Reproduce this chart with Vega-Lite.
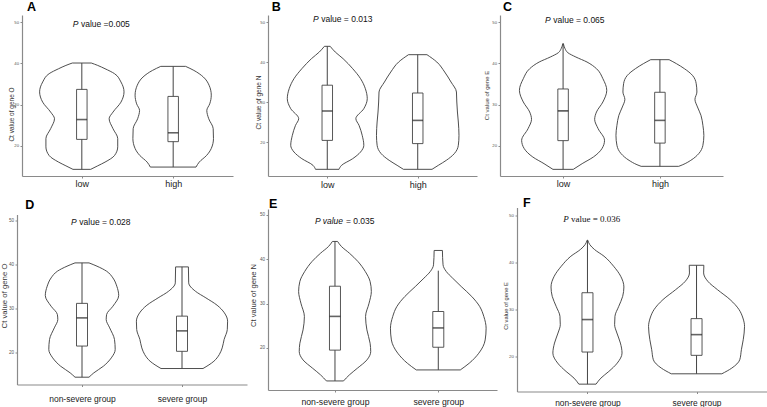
{
"$schema": "https://vega.github.io/schema/vega-lite/v6.json",
"autosize": {"type": "pad"},
"padding": {"left": 0, "top": 1, "right": 0, "bottom": 0},
"background": "white",
"bounds": "full",
"spacing": 6.5,
"datasets": {
"vA": [
{"g":1,"v":40.08,"lo":0.896,"hi":1.104},{"g":1,"v":39.5,"lo":0.826,"hi":1.174},{"g":1,"v":38.7,"lo":0.746,"hi":1.254},{"g":1,"v":37.5,"lo":0.642,"hi":1.358},{"g":1,"v":35.5,"lo":0.572,"hi":1.428},{"g":1,"v":33.1,"lo":0.538,"hi":1.462},{"g":1,"v":30.6,"lo":0.572,"hi":1.428},{"g":1,"v":28.2,"lo":0.659,"hi":1.341},{"g":1,"v":26.6,"lo":0.701,"hi":1.299},{"g":1,"v":24.2,"lo":0.659,"hi":1.341},{"g":1,"v":21.8,"lo":0.607,"hi":1.393},{"g":1,"v":19.8,"lo":0.607,"hi":1.393},{"g":1,"v":17.7,"lo":0.642,"hi":1.358},{"g":1,"v":16.1,"lo":0.746,"hi":1.254},{"g":1,"v":15.2,"lo":0.826,"hi":1.174},{"g":1,"v":14.35,"lo":0.903,"hi":1.097},
{"g":2,"v":39.27,"lo":1.864,"hi":2.136},{"g":2,"v":38.3,"lo":1.774,"hi":2.226},{"g":2,"v":36.7,"lo":1.67,"hi":2.33},{"g":2,"v":34.7,"lo":1.607,"hi":2.393},{"g":2,"v":32.3,"lo":1.583,"hi":2.417},{"g":2,"v":30.2,"lo":1.6,"hi":2.4},{"g":2,"v":28.6,"lo":1.632,"hi":2.368},{"g":2,"v":26.6,"lo":1.611,"hi":2.389},{"g":2,"v":24.2,"lo":1.562,"hi":2.438},{"g":2,"v":21.8,"lo":1.559,"hi":2.441},{"g":2,"v":19.4,"lo":1.583,"hi":2.417},{"g":2,"v":17.7,"lo":1.635,"hi":2.365},{"g":2,"v":16.1,"lo":1.715,"hi":2.285},{"g":2,"v":14.9,"lo":1.75,"hi":2.25}
],
"bA": [{"pos":1,"min":14.35,"q1":21.6,"med":26.4,"q3":33.7,"max":40.08},{"pos":2,"min":14.9,"q1":21.05,"med":23.2,"q3":32.0,"max":39.27}],
"vB": [
{"g":1,"v":43.92,"lo":0.968,"hi":1.032},{"g":1,"v":42.5,"lo":0.912,"hi":1.088},{"g":1,"v":40.83,"lo":0.825,"hi":1.175},{"g":1,"v":38.33,"lo":0.719,"hi":1.281},{"g":1,"v":35.83,"lo":0.632,"hi":1.368},{"g":1,"v":33.33,"lo":0.579,"hi":1.421},{"g":1,"v":30.83,"lo":0.558,"hi":1.442},{"g":1,"v":28.33,"lo":0.596,"hi":1.404},{"g":1,"v":25.83,"lo":0.684,"hi":1.316},{"g":1,"v":24.17,"lo":0.649,"hi":1.351},{"g":1,"v":21.67,"lo":0.614,"hi":1.386},{"g":1,"v":19.17,"lo":0.596,"hi":1.404},{"g":1,"v":17.5,"lo":0.632,"hi":1.368},{"g":1,"v":15.83,"lo":0.719,"hi":1.281},{"g":1,"v":14.17,"lo":0.842,"hi":1.158},{"g":1,"v":13.17,"lo":0.87,"hi":1.13},
{"g":2,"v":41.83,"lo":1.898,"hi":2.102},{"g":2,"v":40.0,"lo":1.789,"hi":2.211},{"g":2,"v":37.5,"lo":1.702,"hi":2.298},{"g":2,"v":35.0,"lo":1.632,"hi":2.368},{"g":2,"v":32.5,"lo":1.572,"hi":2.428},{"g":2,"v":30.0,"lo":1.568,"hi":2.432},{"g":2,"v":27.5,"lo":1.561,"hi":2.439},{"g":2,"v":25.0,"lo":1.551,"hi":2.449},{"g":2,"v":21.67,"lo":1.544,"hi":2.456},{"g":2,"v":19.17,"lo":1.551,"hi":2.449},{"g":2,"v":17.08,"lo":1.596,"hi":2.404},{"g":2,"v":15.42,"lo":1.684,"hi":2.316},{"g":2,"v":14.17,"lo":1.772,"hi":2.228},{"g":2,"v":13.17,"lo":1.842,"hi":2.158}
],
"bB": [{"pos":1,"min":13.17,"q1":20.4,"med":27.75,"q3":34.2,"max":43.92},{"pos":2,"min":13.17,"q1":19.6,"med":25.4,"q3":32.25,"max":41.83}],
"vC": [
{"g":1,"v":44.76,"lo":0.997,"hi":1.003},{"g":1,"v":43.55,"lo":0.98,"hi":1.02},{"g":1,"v":42.58,"lo":0.951,"hi":1.049},{"g":1,"v":41.53,"lo":0.868,"hi":1.132},{"g":1,"v":40.32,"lo":0.753,"hi":1.247},{"g":1,"v":38.71,"lo":0.655,"hi":1.345},{"g":1,"v":36.29,"lo":0.589,"hi":1.411},{"g":1,"v":33.47,"lo":0.549,"hi":1.451},{"g":1,"v":30.65,"lo":0.589,"hi":1.411},{"g":1,"v":28.23,"lo":0.655,"hi":1.345},{"g":1,"v":26.45,"lo":0.674,"hi":1.326},{"g":1,"v":24.19,"lo":0.638,"hi":1.362},{"g":1,"v":21.37,"lo":0.572,"hi":1.428},{"g":1,"v":19.35,"lo":0.599,"hi":1.401},{"g":1,"v":17.34,"lo":0.687,"hi":1.313},{"g":1,"v":15.73,"lo":0.803,"hi":1.197},{"g":1,"v":14.35,"lo":0.895,"hi":1.105},
{"g":2,"v":40.89,"lo":1.905,"hi":2.095},{"g":2,"v":39.92,"lo":1.829,"hi":2.171},{"g":2,"v":38.71,"lo":1.747,"hi":2.253},{"g":2,"v":37.1,"lo":1.664,"hi":2.336},{"g":2,"v":35.08,"lo":1.625,"hi":2.375},{"g":2,"v":33.06,"lo":1.618,"hi":2.382},{"g":2,"v":31.29,"lo":1.638,"hi":2.362},{"g":2,"v":29.44,"lo":1.612,"hi":2.388},{"g":2,"v":27.42,"lo":1.576,"hi":2.424},{"g":2,"v":25.0,"lo":1.556,"hi":2.444},{"g":2,"v":22.58,"lo":1.546,"hi":2.454},{"g":2,"v":20.16,"lo":1.556,"hi":2.444},{"g":2,"v":18.15,"lo":1.599,"hi":2.401},{"g":2,"v":16.53,"lo":1.681,"hi":2.319},{"g":2,"v":15.48,"lo":1.763,"hi":2.237},{"g":2,"v":15.08,"lo":1.806,"hi":2.194}
],
"bC": [{"pos":1,"min":14.35,"q1":21.3,"med":28.5,"q3":33.8,"max":44.76},{"pos":2,"min":15.08,"q1":20.7,"med":26.2,"q3":33.0,"max":40.89}],
"vD": [
{"g":1,"v":40.3,"lo":0.93,"hi":1.07},{"g":1,"v":39.55,"lo":0.85,"hi":1.15},{"g":1,"v":38.41,"lo":0.754,"hi":1.246},{"g":1,"v":36.89,"lo":0.691,"hi":1.309},{"g":1,"v":35.0,"lo":0.652,"hi":1.348},{"g":1,"v":32.88,"lo":0.633,"hi":1.367},{"g":1,"v":30.45,"lo":0.691,"hi":1.309},{"g":1,"v":28.56,"lo":0.754,"hi":1.246},{"g":1,"v":27.42,"lo":0.758,"hi":1.242},{"g":1,"v":25.53,"lo":0.723,"hi":1.277},{"g":1,"v":22.88,"lo":0.675,"hi":1.325},{"g":1,"v":20.61,"lo":0.668,"hi":1.332},{"g":1,"v":18.71,"lo":0.707,"hi":1.293},{"g":1,"v":16.82,"lo":0.786,"hi":1.214},{"g":1,"v":15.3,"lo":0.882,"hi":1.118},{"g":1,"v":14.32,"lo":0.93,"hi":1.07},
{"g":2,"v":39.39,"lo":1.936,"hi":2.064},{"g":2,"v":35.76,"lo":1.933,"hi":2.067},{"g":2,"v":33.86,"lo":1.866,"hi":2.134},{"g":2,"v":32.35,"lo":1.761,"hi":2.239},{"g":2,"v":30.68,"lo":1.649,"hi":2.351},{"g":2,"v":28.94,"lo":1.576,"hi":2.424},{"g":2,"v":27.05,"lo":1.544,"hi":2.456},{"g":2,"v":25.15,"lo":1.547,"hi":2.453},{"g":2,"v":22.88,"lo":1.579,"hi":2.421},{"g":2,"v":20.98,"lo":1.598,"hi":2.402},{"g":2,"v":19.47,"lo":1.627,"hi":2.373},{"g":2,"v":17.95,"lo":1.681,"hi":2.319},{"g":2,"v":16.29,"lo":1.79,"hi":2.21}
],
"bD": [{"pos":1,"min":14.32,"q1":21.4,"med":27.8,"q3":31.1,"max":40.3},{"pos":2,"min":16.29,"q1":20.2,"med":24.85,"q3":28.2,"max":39.39}],
"vE": [
{"g":1,"v":43.98,"lo":0.975,"hi":1.025},{"g":1,"v":42.86,"lo":0.938,"hi":1.062},{"g":1,"v":41.35,"lo":0.861,"hi":1.139},{"g":1,"v":39.47,"lo":0.778,"hi":1.222},{"g":1,"v":37.22,"lo":0.707,"hi":1.293},{"g":1,"v":34.96,"lo":0.66,"hi":1.34},{"g":1,"v":32.71,"lo":0.648,"hi":1.352},{"g":1,"v":30.08,"lo":0.67,"hi":1.33},{"g":1,"v":27.07,"lo":0.704,"hi":1.296},{"g":1,"v":24.06,"lo":0.691,"hi":1.309},{"g":1,"v":21.05,"lo":0.66,"hi":1.34},{"g":1,"v":19.17,"lo":0.654,"hi":1.346},{"g":1,"v":17.29,"lo":0.691,"hi":1.309},{"g":1,"v":15.41,"lo":0.784,"hi":1.216},{"g":1,"v":13.91,"lo":0.861,"hi":1.139},{"g":1,"v":12.56,"lo":0.917,"hi":1.083},
{"g":2,"v":41.95,"lo":1.96,"hi":2.04},{"g":2,"v":38.72,"lo":1.954,"hi":2.046},{"g":2,"v":37.22,"lo":1.923,"hi":2.077},{"g":2,"v":35.71,"lo":1.861,"hi":2.139},{"g":2,"v":33.83,"lo":1.778,"hi":2.222},{"g":2,"v":31.58,"lo":1.676,"hi":2.324},{"g":2,"v":29.32,"lo":1.599,"hi":2.401},{"g":2,"v":27.07,"lo":1.559,"hi":2.441},{"g":2,"v":24.44,"lo":1.537,"hi":2.463},{"g":2,"v":21.8,"lo":1.546,"hi":2.454},{"g":2,"v":18.8,"lo":1.608,"hi":2.392},{"g":2,"v":16.54,"lo":1.701,"hi":2.299},{"g":2,"v":15.04,"lo":1.787,"hi":2.213}
],
"bE": [{"pos":1,"min":12.56,"q1":19.5,"med":27.1,"q3":33.9,"max":43.98},{"pos":2,"min":15.04,"q1":20.15,"med":24.5,"q3":28.2,"max":37.4}],
"vF": [
{"g":1,"v":44.75,"lo":0.997,"hi":1.003},{"g":1,"v":43.83,"lo":0.979,"hi":1.021},{"g":1,"v":42.77,"lo":0.935,"hi":1.065},{"g":1,"v":41.35,"lo":0.848,"hi":1.152},{"g":1,"v":39.22,"lo":0.76,"hi":1.24},{"g":1,"v":37.09,"lo":0.695,"hi":1.305},{"g":1,"v":34.82,"lo":0.666,"hi":1.334},{"g":1,"v":32.84,"lo":0.677,"hi":1.323},{"g":1,"v":30.71,"lo":0.713,"hi":1.287},{"g":1,"v":28.58,"lo":0.748,"hi":1.252},{"g":1,"v":26.81,"lo":0.751,"hi":1.249},{"g":1,"v":25.04,"lo":0.73,"hi":1.27},{"g":1,"v":22.91,"lo":0.698,"hi":1.302},{"g":1,"v":20.78,"lo":0.683,"hi":1.317},{"g":1,"v":18.65,"lo":0.727,"hi":1.273},{"g":1,"v":16.88,"lo":0.804,"hi":1.196},{"g":1,"v":15.46,"lo":0.877,"hi":1.123},{"g":1,"v":14.18,"lo":0.921,"hi":1.079},
{"g":2,"v":39.43,"lo":1.933,"hi":2.067},{"g":2,"v":37.8,"lo":1.935,"hi":2.065},{"g":2,"v":36.03,"lo":1.897,"hi":2.103},{"g":2,"v":34.26,"lo":1.809,"hi":2.191},{"g":2,"v":32.13,"lo":1.692,"hi":2.308},{"g":2,"v":30.0,"lo":1.61,"hi":2.39},{"g":2,"v":28.23,"lo":1.575,"hi":2.425},{"g":2,"v":26.45,"lo":1.56,"hi":2.44},{"g":2,"v":23.62,"lo":1.572,"hi":2.428},{"g":2,"v":21.49,"lo":1.589,"hi":2.411},{"g":2,"v":19.36,"lo":1.604,"hi":2.396},{"g":2,"v":17.59,"lo":1.677,"hi":2.323},{"g":2,"v":16.38,"lo":1.768,"hi":2.232}
],
"bF": [{"pos":1,"min":14.18,"q1":21.0,"med":27.9,"q3":33.6,"max":44.75},{"pos":2,"min":16.38,"q1":20.3,"med":24.7,"q3":28.1,"max":39.43}],
"empty": [{}]
},
"vconcat": [
{"hconcat": [
  {"width": 22, "height": 1, "view": {"fill": "white", "stroke": null}, "data": {"name": "empty"}, "mark": {"type": "point", "opacity": 0}, "encoding": {}},
  {"width": 211, "height": 161, "title": {"text": "A", "dx": 5, "offset": 1.5},
   "layer": [
    {"data": {"name": "vA"}, "mark": {"type": "area", "orient": "horizontal", "interpolate": "monotone", "fill": "white", "stroke": "#3a3a3a", "strokeWidth": 0.9},
     "encoding": {"y": {"field": "v", "type": "quantitative", "scale": {"domain": [12.74, 51.7], "nice": false, "zero": false}, "axis": {"values": [20,30,40,50], "title": "Ct value of gene O", "titleFontSize": 6.5, "titleX": -10.3, "titleY": 99}},
      "x": {"field": "lo", "type": "quantitative", "scale": {"domain": [0.4, 2.6], "nice": false, "zero": false}, "axis": {"values": [1,2], "labelExpr": "datum.value == 1 ? 'low' : 'high'", "title": null, "labelPadding": 5.2, "labelFontSize": 9}},
      "x2": {"field": "hi"}, "detail": {"field": "g"}}},
    {"data": {"name": "bA"}, "mark": {"type": "rule", "color": "#444", "strokeWidth": 1},
     "encoding": {"x": {"field": "pos", "type": "quantitative", "scale": {"domain": [0.4, 2.6], "nice": false, "zero": false}}, "y": {"field": "min", "type": "quantitative", "scale": {"domain": [12.74, 51.7], "nice": false, "zero": false}}, "y2": {"field": "max"}}},
    {"data": {"name": "bA"}, "mark": {"type": "bar", "size": 10.5, "fill": "white", "stroke": "#444", "strokeWidth": 0.9},
     "encoding": {"x": {"field": "pos", "type": "quantitative", "scale": {"domain": [0.4, 2.6], "nice": false, "zero": false}}, "y": {"field": "q1", "type": "quantitative", "scale": {"domain": [12.74, 51.7], "nice": false, "zero": false}}, "y2": {"field": "q3"}}},
    {"data": {"name": "bA"}, "mark": {"type": "tick", "orient": "horizontal", "size": 10.5, "thickness": 1.6, "color": "#222"},
     "encoding": {"x": {"field": "pos", "type": "quantitative", "scale": {"domain": [0.4, 2.6], "nice": false, "zero": false}}, "y": {"field": "med", "type": "quantitative", "scale": {"domain": [12.74, 51.7], "nice": false, "zero": false}}}},
    {"data": {"name": "empty"}, "mark": {"type": "text", "fontStyle": "italic", "align": "left", "baseline": "middle", "fontSize": 8.5, "color": "#111"},
     "encoding": {"x": {"datum": 0.9005, "type": "quantitative", "scale": {"domain": [0.4, 2.6], "nice": false, "zero": false}}, "y": {"datum": 49.44, "type": "quantitative", "scale": {"domain": [12.74, 51.7], "nice": false, "zero": false}}, "text": {"value": "P"}}},
    {"data": {"name": "empty"}, "mark": {"type": "text", "align": "left", "baseline": "middle", "fontSize": 8.5, "color": "#111", "dx": 8.2},
     "encoding": {"x": {"datum": 0.9005, "type": "quantitative", "scale": {"domain": [0.4, 2.6], "nice": false, "zero": false}}, "y": {"datum": 49.44, "type": "quantitative", "scale": {"domain": [12.74, 51.7], "nice": false, "zero": false}}, "text": {"value": "value =0.005"}}}
   ]},
  {"width": 35, "height": 1, "view": {"fill": "white", "stroke": null}, "data": {"name": "empty"}, "mark": {"type": "point", "opacity": 0}, "encoding": {}},
  {"width": 209, "height": 161, "title": {"text": "B", "dx": 3.7, "offset": 1.5},
   "layer": [
    {"data": {"name": "vB"}, "mark": {"type": "area", "orient": "horizontal", "interpolate": "monotone", "fill": "white", "stroke": "#3a3a3a", "strokeWidth": 0.9},
     "encoding": {"y": {"field": "v", "type": "quantitative", "scale": {"domain": [11.5, 51.75], "nice": false, "zero": false}, "axis": {"values": [20,30,40,50], "title": "Ct value of gene N", "titleFontSize": 6.5, "titleX": -9.5, "titleY": 87}},
      "x": {"field": "lo", "type": "quantitative", "scale": {"domain": [0.4, 2.6], "nice": false, "zero": false}, "axis": {"values": [1,2], "labelExpr": "datum.value == 1 ? 'low' : 'high'", "title": null, "labelPadding": 6.8, "labelFontSize": 9}},
      "x2": {"field": "hi"}, "detail": {"field": "g"}}},
    {"data": {"name": "bB"}, "mark": {"type": "rule", "color": "#444", "strokeWidth": 1},
     "encoding": {"x": {"field": "pos", "type": "quantitative", "scale": {"domain": [0.4, 2.6], "nice": false, "zero": false}}, "y": {"field": "min", "type": "quantitative", "scale": {"domain": [11.5, 51.75], "nice": false, "zero": false}}, "y2": {"field": "max"}}},
    {"data": {"name": "bB"}, "mark": {"type": "bar", "size": 10.5, "fill": "white", "stroke": "#444", "strokeWidth": 0.9},
     "encoding": {"x": {"field": "pos", "type": "quantitative", "scale": {"domain": [0.4, 2.6], "nice": false, "zero": false}}, "y": {"field": "q1", "type": "quantitative", "scale": {"domain": [11.5, 51.75], "nice": false, "zero": false}}, "y2": {"field": "q3"}}},
    {"data": {"name": "bB"}, "mark": {"type": "tick", "orient": "horizontal", "size": 10.5, "thickness": 1.6, "color": "#222"},
     "encoding": {"x": {"field": "pos", "type": "quantitative", "scale": {"domain": [0.4, 2.6], "nice": false, "zero": false}}, "y": {"field": "med", "type": "quantitative", "scale": {"domain": [11.5, 51.75], "nice": false, "zero": false}}}},
    {"data": {"name": "empty"}, "mark": {"type": "text", "fontStyle": "italic", "align": "left", "baseline": "middle", "fontSize": 8.5, "color": "#111"},
     "encoding": {"x": {"datum": 0.842, "type": "quantitative", "scale": {"domain": [0.4, 2.6], "nice": false, "zero": false}}, "y": {"datum": 50.68, "type": "quantitative", "scale": {"domain": [11.5, 51.75], "nice": false, "zero": false}}, "text": {"value": "P"}}},
    {"data": {"name": "empty"}, "mark": {"type": "text", "align": "left", "baseline": "middle", "fontSize": 8.5, "color": "#111", "dx": 8.2},
     "encoding": {"x": {"datum": 0.842, "type": "quantitative", "scale": {"domain": [0.4, 2.6], "nice": false, "zero": false}}, "y": {"datum": 50.68, "type": "quantitative", "scale": {"domain": [11.5, 51.75], "nice": false, "zero": false}}, "text": {"value": "value = 0.013"}}}
   ]},
  {"width": 23, "height": 1, "view": {"fill": "white", "stroke": null}, "data": {"name": "empty"}, "mark": {"type": "point", "opacity": 0}, "encoding": {}},
  {"width": 223, "height": 161, "title": {"text": "C", "dx": 3, "offset": 1.5},
   "layer": [
    {"data": {"name": "vC"}, "mark": {"type": "area", "orient": "horizontal", "interpolate": "monotone", "fill": "white", "stroke": "#3a3a3a", "strokeWidth": 0.9},
     "encoding": {"y": {"field": "v", "type": "quantitative", "scale": {"domain": [12.74, 51.7], "nice": false, "zero": false}, "axis": {"values": [20,30,40,50], "title": "Ct value of gene E", "titleFontSize": 6, "titleX": -13.5, "titleY": 80}},
      "x": {"field": "lo", "type": "quantitative", "scale": {"domain": [0.4, 2.6], "nice": false, "zero": false}, "axis": {"values": [1,2], "labelExpr": "datum.value == 1 ? 'low' : 'high'", "title": null, "labelPadding": 5.2, "labelFontSize": 9}},
      "x2": {"field": "hi"}, "detail": {"field": "g"}}},
    {"data": {"name": "bC"}, "mark": {"type": "rule", "color": "#444", "strokeWidth": 1},
     "encoding": {"x": {"field": "pos", "type": "quantitative", "scale": {"domain": [0.4, 2.6], "nice": false, "zero": false}}, "y": {"field": "min", "type": "quantitative", "scale": {"domain": [12.74, 51.7], "nice": false, "zero": false}}, "y2": {"field": "max"}}},
    {"data": {"name": "bC"}, "mark": {"type": "bar", "size": 10.5, "fill": "white", "stroke": "#444", "strokeWidth": 0.9},
     "encoding": {"x": {"field": "pos", "type": "quantitative", "scale": {"domain": [0.4, 2.6], "nice": false, "zero": false}}, "y": {"field": "q1", "type": "quantitative", "scale": {"domain": [12.74, 51.7], "nice": false, "zero": false}}, "y2": {"field": "q3"}}},
    {"data": {"name": "bC"}, "mark": {"type": "tick", "orient": "horizontal", "size": 10.5, "thickness": 1.6, "color": "#222"},
     "encoding": {"x": {"field": "pos", "type": "quantitative", "scale": {"domain": [0.4, 2.6], "nice": false, "zero": false}}, "y": {"field": "med", "type": "quantitative", "scale": {"domain": [12.74, 51.7], "nice": false, "zero": false}}}},
    {"data": {"name": "empty"}, "mark": {"type": "text", "fontStyle": "italic", "align": "left", "baseline": "middle", "fontSize": 8.5, "color": "#111"},
     "encoding": {"x": {"datum": 0.814, "type": "quantitative", "scale": {"domain": [0.4, 2.6], "nice": false, "zero": false}}, "y": {"datum": 50.41, "type": "quantitative", "scale": {"domain": [12.74, 51.7], "nice": false, "zero": false}}, "text": {"value": "P"}}},
    {"data": {"name": "empty"}, "mark": {"type": "text", "align": "left", "baseline": "middle", "fontSize": 8.5, "color": "#111", "dx": 8.2},
     "encoding": {"x": {"datum": 0.814, "type": "quantitative", "scale": {"domain": [0.4, 2.6], "nice": false, "zero": false}}, "y": {"datum": 50.41, "type": "quantitative", "scale": {"domain": [12.74, 51.7], "nice": false, "zero": false}}, "text": {"value": "value = 0.065"}}}
   ]}
], "spacing": 0, "bounds": "flush"},
{"hconcat": [
  {"width": 16.7, "height": 1, "view": {"fill": "white", "stroke": null}, "data": {"name": "empty"}, "mark": {"type": "point", "opacity": 0}, "encoding": {}},
  {"width": 230, "height": 170, "title": {"text": "D", "dx": 8.3, "offset": 3},
   "layer": [
    {"data": {"name": "vD"}, "mark": {"type": "area", "orient": "horizontal", "interpolate": "monotone", "fill": "white", "stroke": "#3a3a3a", "strokeWidth": 0.9},
     "encoding": {"y": {"field": "v", "type": "quantitative", "scale": {"domain": [12.66, 51.3], "nice": false, "zero": false}, "axis": {"values": [20,30,40,50], "title": "Ct value of gene O", "titleFontSize": 7.8, "titleX": -12.7, "titleY": 81, "labelFontSize": 4.6}},
      "x": {"field": "lo", "type": "quantitative", "scale": {"domain": [0.4, 2.6], "nice": false, "zero": false}, "axis": {"values": [1,2], "labelExpr": "datum.value == 1 ? 'non-severe group' : 'severe group'", "title": null, "labelPadding": 12, "labelFontSize": 8.5}},
      "x2": {"field": "hi"}, "detail": {"field": "g"}}},
    {"data": {"name": "bD"}, "mark": {"type": "rule", "color": "#444", "strokeWidth": 1},
     "encoding": {"x": {"field": "pos", "type": "quantitative", "scale": {"domain": [0.4, 2.6], "nice": false, "zero": false}}, "y": {"field": "min", "type": "quantitative", "scale": {"domain": [12.66, 51.3], "nice": false, "zero": false}}, "y2": {"field": "max"}}},
    {"data": {"name": "bD"}, "mark": {"type": "bar", "size": 11, "fill": "white", "stroke": "#444", "strokeWidth": 0.9},
     "encoding": {"x": {"field": "pos", "type": "quantitative", "scale": {"domain": [0.4, 2.6], "nice": false, "zero": false}}, "y": {"field": "q1", "type": "quantitative", "scale": {"domain": [12.66, 51.3], "nice": false, "zero": false}}, "y2": {"field": "q3"}}},
    {"data": {"name": "bD"}, "mark": {"type": "tick", "orient": "horizontal", "size": 11, "thickness": 1.6, "color": "#222"},
     "encoding": {"x": {"field": "pos", "type": "quantitative", "scale": {"domain": [0.4, 2.6], "nice": false, "zero": false}}, "y": {"field": "med", "type": "quantitative", "scale": {"domain": [12.66, 51.3], "nice": false, "zero": false}}}},
    {"data": {"name": "empty"}, "mark": {"type": "text", "fontStyle": "italic", "align": "left", "baseline": "middle", "fontSize": 8.5, "color": "#111"},
     "encoding": {"x": {"datum": 0.891, "type": "quantitative", "scale": {"domain": [0.4, 2.6], "nice": false, "zero": false}}, "y": {"datum": 49.55, "type": "quantitative", "scale": {"domain": [12.66, 51.3], "nice": false, "zero": false}}, "text": {"value": "P"}}},
    {"data": {"name": "empty"}, "mark": {"type": "text", "align": "left", "baseline": "middle", "fontSize": 8.5, "color": "#111", "dx": 8.2},
     "encoding": {"x": {"datum": 0.891, "type": "quantitative", "scale": {"domain": [0.4, 2.6], "nice": false, "zero": false}}, "y": {"datum": 49.55, "type": "quantitative", "scale": {"domain": [12.66, 51.3], "nice": false, "zero": false}}, "text": {"value": "value = 0.028"}}}
   ]},
  {"width": 21, "height": 1, "view": {"fill": "white", "stroke": null}, "data": {"name": "empty"}, "mark": {"type": "point", "opacity": 0}, "encoding": {}},
  {"width": 229, "height": 181, "title": {"text": "E", "dx": 1, "offset": -1.8},
   "layer": [
    {"data": {"name": "vE"}, "mark": {"type": "area", "orient": "horizontal", "interpolate": "monotone", "fill": "white", "stroke": "#3a3a3a", "strokeWidth": 0.9},
     "encoding": {"y": {"field": "v", "type": "quantitative", "scale": {"domain": [10.52, 51.29], "nice": false, "zero": false}, "axis": {"values": [20,30,40,50], "title": "Ct value of gene N", "titleFontSize": 7.6, "titleX": -15, "titleY": 86, "labelFontSize": 4.6}},
      "x": {"field": "lo", "type": "quantitative", "scale": {"domain": [0.4, 2.52], "nice": false, "zero": false}, "axis": {"values": [1,2], "labelExpr": "datum.value == 1 ? 'non-severe group' : 'severe group'", "title": null, "labelPadding": 9, "labelFontSize": 8.7}},
      "x2": {"field": "hi"}, "detail": {"field": "g"}}},
    {"data": {"name": "bE"}, "mark": {"type": "rule", "color": "#444", "strokeWidth": 1},
     "encoding": {"x": {"field": "pos", "type": "quantitative", "scale": {"domain": [0.4, 2.52], "nice": false, "zero": false}}, "y": {"field": "min", "type": "quantitative", "scale": {"domain": [10.52, 51.29], "nice": false, "zero": false}}, "y2": {"field": "max"}}},
    {"data": {"name": "bE"}, "mark": {"type": "bar", "size": 11, "fill": "white", "stroke": "#444", "strokeWidth": 0.9},
     "encoding": {"x": {"field": "pos", "type": "quantitative", "scale": {"domain": [0.4, 2.52], "nice": false, "zero": false}}, "y": {"field": "q1", "type": "quantitative", "scale": {"domain": [10.52, 51.29], "nice": false, "zero": false}}, "y2": {"field": "q3"}}},
    {"data": {"name": "bE"}, "mark": {"type": "tick", "orient": "horizontal", "size": 11, "thickness": 1.6, "color": "#222"},
     "encoding": {"x": {"field": "pos", "type": "quantitative", "scale": {"domain": [0.4, 2.52], "nice": false, "zero": false}}, "y": {"field": "med", "type": "quantitative", "scale": {"domain": [10.52, 51.29], "nice": false, "zero": false}}}},
    {"data": {"name": "empty"}, "mark": {"type": "text", "fontStyle": "italic", "align": "left", "baseline": "middle", "fontSize": 8.5, "color": "#111"},
     "encoding": {"x": {"datum": 0.806, "type": "quantitative", "scale": {"domain": [0.4, 2.52], "nice": false, "zero": false}}, "y": {"datum": 48.49, "type": "quantitative", "scale": {"domain": [10.52, 51.29], "nice": false, "zero": false}}, "text": {"value": "P value"}}},
    {"data": {"name": "empty"}, "mark": {"type": "text", "align": "left", "baseline": "middle", "fontSize": 8.5, "color": "#111", "dx": 31},
     "encoding": {"x": {"datum": 0.806, "type": "quantitative", "scale": {"domain": [0.4, 2.52], "nice": false, "zero": false}}, "y": {"datum": 48.49, "type": "quantitative", "scale": {"domain": [10.52, 51.29], "nice": false, "zero": false}}, "text": {"value": "= 0.035"}}}
   ]},
  {"width": 20, "height": 1, "view": {"fill": "white", "stroke": null}, "data": {"name": "empty"}, "mark": {"type": "point", "opacity": 0}, "encoding": {}},
  {"width": 250, "height": 184, "title": {"text": "F", "dx": 6, "offset": -2},
   "layer": [
    {"data": {"name": "vF"}, "mark": {"type": "area", "orient": "horizontal", "interpolate": "monotone", "fill": "white", "stroke": "#3a3a3a", "strokeWidth": 0.9},
     "encoding": {"y": {"field": "v", "type": "quantitative", "scale": {"domain": [12.62, 51.7], "nice": false, "zero": false}, "axis": {"values": [20,30,40,50], "title": "Ct value of gene E", "titleFontSize": 5.8, "titleX": -12, "titleY": 98, "labelFontSize": 4.4}},
      "x": {"field": "lo", "type": "quantitative", "scale": {"domain": [0.4, 2.6], "nice": false, "zero": false}, "axis": {"values": [1,2], "labelExpr": "datum.value == 1 ? 'non-severe group' : 'severe group'", "title": null, "labelPadding": 8.6, "labelFontSize": 8.4}},
      "x2": {"field": "hi"}, "detail": {"field": "g"}}},
    {"data": {"name": "bF"}, "mark": {"type": "rule", "color": "#444", "strokeWidth": 1},
     "encoding": {"x": {"field": "pos", "type": "quantitative", "scale": {"domain": [0.4, 2.6], "nice": false, "zero": false}}, "y": {"field": "min", "type": "quantitative", "scale": {"domain": [12.62, 51.7], "nice": false, "zero": false}}, "y2": {"field": "max"}}},
    {"data": {"name": "bF"}, "mark": {"type": "bar", "size": 11, "fill": "white", "stroke": "#444", "strokeWidth": 0.9},
     "encoding": {"x": {"field": "pos", "type": "quantitative", "scale": {"domain": [0.4, 2.6], "nice": false, "zero": false}}, "y": {"field": "q1", "type": "quantitative", "scale": {"domain": [12.62, 51.7], "nice": false, "zero": false}}, "y2": {"field": "q3"}}},
    {"data": {"name": "bF"}, "mark": {"type": "tick", "orient": "horizontal", "size": 11, "thickness": 1.6, "color": "#222"},
     "encoding": {"x": {"field": "pos", "type": "quantitative", "scale": {"domain": [0.4, 2.6], "nice": false, "zero": false}}, "y": {"field": "med", "type": "quantitative", "scale": {"domain": [12.62, 51.7], "nice": false, "zero": false}}}},
    {"data": {"name": "empty"}, "mark": {"type": "text", "font": "Liberation Serif", "fontStyle": "italic", "align": "left", "baseline": "middle", "fontSize": 9, "color": "#111"},
     "encoding": {"x": {"datum": 0.778, "type": "quantitative", "scale": {"domain": [0.4, 2.6], "nice": false, "zero": false}}, "y": {"datum": 49.3, "type": "quantitative", "scale": {"domain": [12.62, 51.7], "nice": false, "zero": false}}, "text": {"value": "P"}}},
    {"data": {"name": "empty"}, "mark": {"type": "text", "font": "Liberation Serif", "align": "left", "baseline": "middle", "fontSize": 9, "color": "#111", "dx": 7.8},
     "encoding": {"x": {"datum": 0.778, "type": "quantitative", "scale": {"domain": [0.4, 2.6], "nice": false, "zero": false}}, "y": {"datum": 49.3, "type": "quantitative", "scale": {"domain": [12.62, 51.7], "nice": false, "zero": false}}, "text": {"value": "value = 0.036"}}}
   ]}
], "spacing": 0, "bounds": "flush", "center": true}
],
"config": {
 "view": {"stroke": null},
 "font": "Liberation Sans",
 "title": {"anchor": "start", "frame": "group", "fontSize": 12.5, "fontWeight": "bold", "color": "#000", "baseline": "alphabetic", "font": "Liberation Sans"},
 "text": {"font": "Liberation Sans"},
 "axis": {"grid": false, "domainColor": "#8a8a8a", "domainWidth": 1.2, "tickColor": "#8a8a8a", "tickSize": 2, "tickWidth": 1, "labelFont": "Liberation Sans", "titleFont": "Liberation Sans", "titleFontWeight": "normal", "titleColor": "#333"},
 "axisX": {"labelColor": "#222", "labelBaseline": "middle", "labelFlush": false},
 "axisY": {"labelColor": "#555", "labelFontSize": 4.2, "labelPadding": 1.5, "titleBaseline": "middle"}
}
}
